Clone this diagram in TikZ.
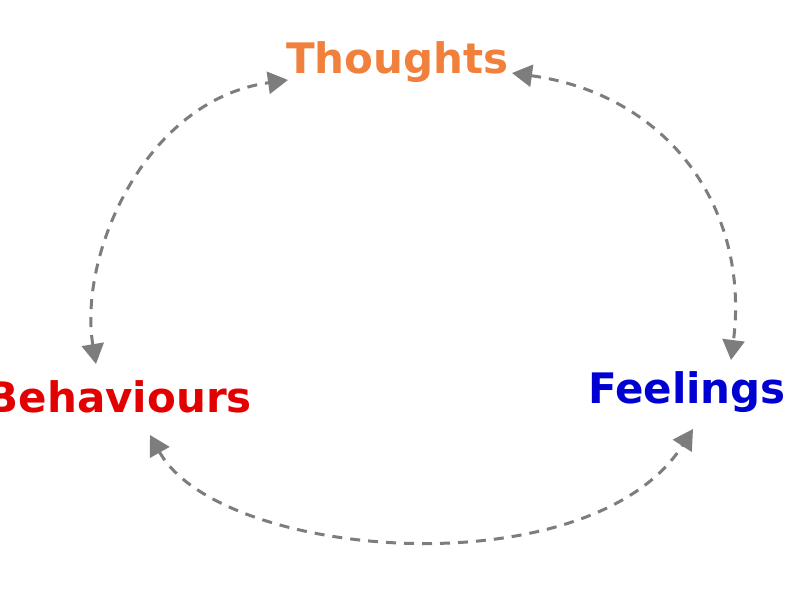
\documentclass[tikz,border=0pt]{standalone}
\usepackage{fontspec}
\setmainfont{DejaVu Sans}
\usetikzlibrary{arrows.meta}
\definecolor{thoughtcol}{RGB}{240,128,60}
\definecolor{behavcol}{RGB}{226,0,0}
\definecolor{feelcol}{RGB}{0,0,210}
\definecolor{arrowcol}{RGB}{125,125,125}
\begin{document}
\begin{tikzpicture}[x=1pt,y=-1pt,
  label/.style={inner sep=0pt,font=\fontsize{42}{50}\selectfont\bfseries},
  cycle/.style={draw=arrowcol,line width=3pt,dash pattern=on 10pt off 8pt,
    {Triangle[length=20pt,width=22pt,fill=arrowcol]}-{Triangle[length=20pt,width=22pt,fill=arrowcol]}}]
\useasboundingbox[fill=white] (0,0) rectangle (800,600);
\node[label,text=thoughtcol,anchor=base] (thoughts) at (397.5,73) {Thoughts};
\node[label,text=behavcol,anchor=base east] (behav) at (252,412) {Behaviours};
\node[label,text=feelcol,anchor=base] (feel) at (687,403) {Feelings};
\coordinate (bT) at (96,364);
\coordinate (tB) at (288,80);
\coordinate (tF) at (512,73);
\coordinate (fT) at (731,360);
\coordinate (bF) at (150,435);
\coordinate (fB) at (693,429);
\draw[cycle] (bT) .. controls (78,255) and (145,100) .. (tB);
\draw[cycle] (tF) .. controls (670,95) and (750,210) .. (fT);
\draw[cycle] (bF) .. controls (220,560) and (590,590) .. (fB);
\end{tikzpicture}
\end{document}
